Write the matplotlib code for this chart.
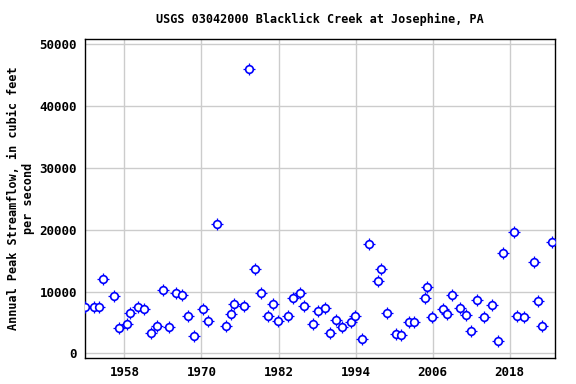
import numpy as np
import matplotlib
matplotlib.use("Agg")
import matplotlib.pyplot as plt

# peak dates (fractional years) and annual peak flows, cfs
years = [1951.92, 1953.32, 1954.10, 1954.73, 1956.44, 1957.22, 1958.47, 1958.94,
         1960.18, 1961.12, 1962.21, 1963.14, 1964.08, 1965.01, 1966.10, 1967.04,
         1967.97, 1968.91, 1970.16, 1971.09, 1972.45, 1973.74, 1974.52, 1974.99,
         1976.55, 1977.43, 1978.41, 1979.19, 1980.28, 1981.06, 1981.84, 1983.40,
         1984.18, 1985.27, 1985.89, 1987.30, 1988.08, 1989.17, 1989.95, 1990.88,
         1991.82, 1993.22, 1993.84, 1994.93, 1996.02, 1997.43, 1997.89, 1998.89,
         2000.23, 2001.01, 2002.26, 2003.04, 2004.75, 2005.12, 2005.84, 2007.56,
         2008.18, 2008.96, 2010.21, 2011.14, 2011.92, 2012.86, 2013.95, 2015.19,
         2016.13, 2016.91, 2018.62, 2019.09, 2020.18, 2021.74, 2022.36, 2022.98,
         2024.54]
peaks = [7430, 7430, 7430, 11960, 9210, 4040, 4690, 6460,
         7430, 7110, 3230, 4360, 10180, 4200, 9700, 9370,
         5980, 2750, 7110, 5170, 20900, 4360, 6300, 7920,
         7600, 45950, 13580, 9700, 5980, 7920, 5170, 5980,
         8890, 9700, 7600, 4690, 6790, 7270, 3230, 5330,
         4200, 5010, 5980, 2260, 17620, 11640, 13580, 6460,
         3070, 2910, 5010, 5010, 8890, 10670, 5820, 7110,
         6300, 9370, 7270, 6140, 3560, 8570, 5820, 7760,
         1940, 16160, 19560, 5980, 5820, 14710, 8400, 4360,
         17940]

xticks = [1958, 1970, 1982, 1994, 2006, 2018]
yticks = [0, 10000, 20000, 30000, 40000, 50000]

font = "DejaVu Sans Mono"

fig = plt.figure(figsize=(5.76, 3.84), dpi=100)
ax = fig.add_axes([0.148, 0.0685, 0.815, 0.829])

# crosshair ticks under a hollow circle, like the USGS marker
ax.plot(years, peaks, linestyle="none", marker="+", markersize=8,
        markeredgecolor="blue", markeredgewidth=0.9, zorder=3)
ax.plot(years, peaks, linestyle="none", marker="o", markersize=5.5,
        markerfacecolor="white", markeredgecolor="blue", markeredgewidth=1.2, zorder=4)

ax.set_xlim(1951.9, 2025.0)
ax.set_ylim(-700, 50800)
ax.set_xticks(xticks)
ax.set_yticks(yticks)
ax.set_xticklabels([str(t) for t in xticks], fontfamily=font, fontweight="bold", fontsize=9)
ax.set_yticklabels([str(t) for t in yticks], fontfamily=font, fontweight="bold", fontsize=9)
ax.tick_params(length=0, pad=6)
ax.grid(True, color="#cccccc", linewidth=1.0)
ax.set_axisbelow(True)
for s in ax.spines.values():
    s.set_linewidth(1.0)

ax.set_title("USGS 03042000 Blacklick Creek at Josephine, PA",
             fontfamily=font, fontweight="bold", fontsize=8.5, pad=12)
ax.set_ylabel("Annual Peak Streamflow, in cubic feet\nper second",
              fontfamily=font, fontweight="bold", fontsize=8.5, labelpad=3)

fig.savefig("out.png", dpi=100)
